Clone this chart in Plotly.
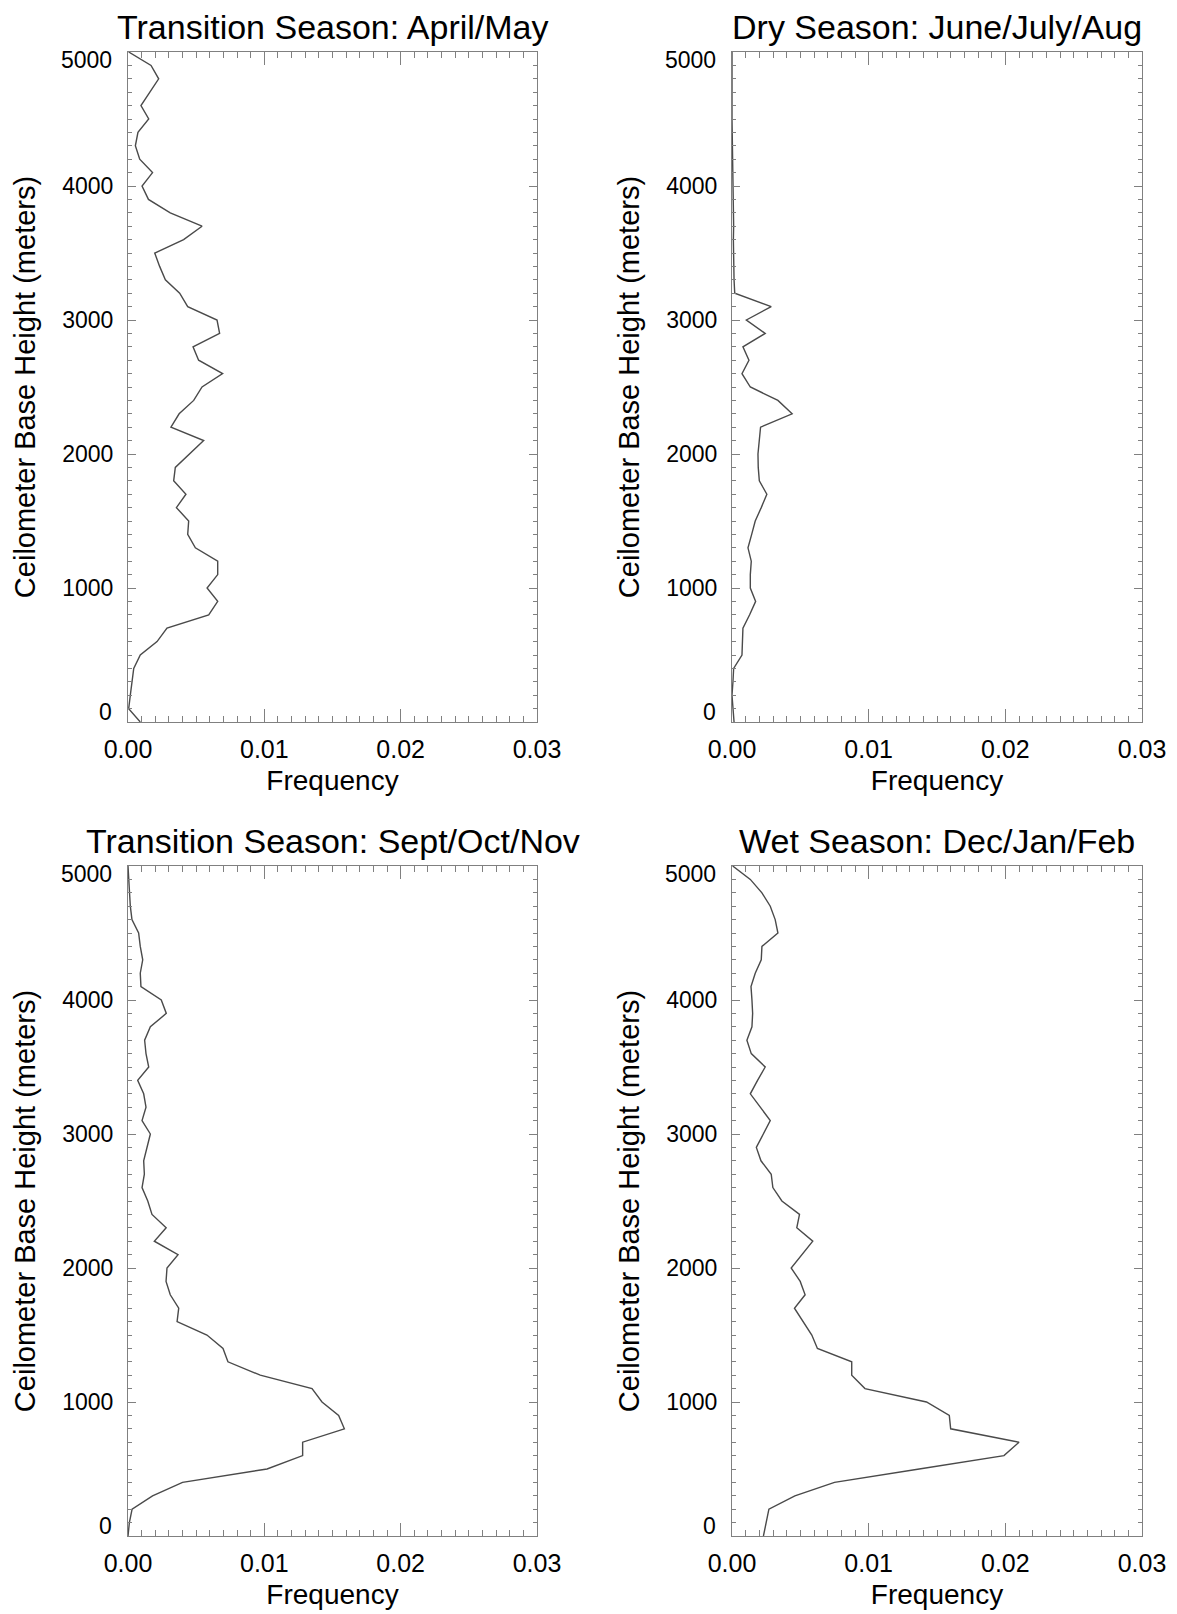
import plotly.graph_objects as go

# ---------------- data ----------------
heights = [0, 100, 200, 300, 400, 500, 600, 700, 800, 900,
           1000, 1100, 1200, 1300, 1400, 1500, 1600, 1700, 1800, 1900,
           2000, 2100, 2200, 2300, 2400, 2500, 2600, 2700, 2800, 2900,
           3000, 3100, 3200, 3300, 3400, 3500, 3600, 3700, 3800, 3900,
           4000, 4100, 4200, 4300, 4400, 4500, 4600, 4700, 4800, 4900, 5000]

freq_apr_may = [0.0009, 0.00005, 0.00017, 0.00029, 0.00042, 0.0009, 0.00213, 0.00286, 0.00592, 0.00658,
                0.0058, 0.00658, 0.00658, 0.00494, 0.00438, 0.00445, 0.00355, 0.00425, 0.00335, 0.00347,
                0.0045, 0.00555, 0.00315, 0.00375, 0.00482, 0.00543, 0.00694, 0.00518, 0.00477, 0.00672,
                0.00653, 0.00438, 0.00379, 0.00274, 0.00232, 0.00196, 0.00408, 0.00543, 0.0031, 0.0015,
                0.00103, 0.0018, 0.00086, 0.00054, 0.00073, 0.00152, 0.00095, 0.0016, 0.00225, 0.00169, 0.00005]

freq_jun_aug = [0.00015, 0.00007, 0.0, 0.00007, 0.00012, 0.00073, 0.00075, 0.0008, 0.00129, 0.00173,
                0.00134, 0.00134, 0.00141, 0.00117, 0.00144, 0.0017, 0.00214, 0.00255, 0.002, 0.00192,
                0.0019, 0.00197, 0.00209, 0.0044, 0.00336, 0.00134, 0.00073, 0.00124, 0.0008, 0.00243,
                0.00105, 0.00287, 0.0002, 0.00015, 0.00012, 0.0001, 0.0001, 0.00012, 0.0001, 0.0001,
                0.00008, 0.00005, 0.00005, 0.00002, 0.0, 0.0, 0.0, 0.0, 0.0, 0.0, 0.0]

freq_sep_nov = [0.0, 0.0001, 0.0003, 0.0018, 0.0040, 0.0102, 0.01281, 0.01281, 0.01587, 0.01545,
                0.01423, 0.0135, 0.0097, 0.00733, 0.00697, 0.00579, 0.0036, 0.00372, 0.0031, 0.00279,
                0.00286, 0.00367, 0.00193, 0.0028, 0.00176, 0.00145, 0.00103, 0.0012, 0.00115, 0.00139,
                0.00164, 0.00103, 0.00132, 0.00115, 0.00071, 0.00152, 0.00132, 0.00122, 0.00164, 0.00281,
                0.00244, 0.00095, 0.0009, 0.00108, 0.0009, 0.00078, 0.00029, 0.00017, 0.0001, 0.00002, 0.0]

freq_dec_feb = [0.0023, 0.0025, 0.0027, 0.0046, 0.0075, 0.0137, 0.0199, 0.0210, 0.0160, 0.0159,
                0.01423, 0.00973, 0.00876, 0.00876, 0.00625, 0.00584, 0.0052, 0.00457, 0.00535, 0.00499,
                0.00433, 0.0051, 0.00591, 0.00474, 0.00494, 0.00365, 0.00299, 0.00287, 0.00212, 0.00178,
                0.00231, 0.0028, 0.00207, 0.00134, 0.00187, 0.00243, 0.00141, 0.00109, 0.00146, 0.00151,
                0.00146, 0.00139, 0.0017, 0.00214, 0.00219, 0.00336, 0.00316, 0.0028, 0.00219, 0.00134, 0.00005]

titles = ["Transition Season: April/May", "Dry Season: June/July/Aug",
          "Transition Season: Sept/Oct/Nov", "Wet Season: Dec/Jan/Feb"]
series = [freq_apr_may, freq_jun_aug, freq_sep_nov, freq_dec_feb]

x_tickvals = [0.0, 0.01, 0.02, 0.03]
x_ticktext = ["0.00", "0.01", "0.02", "0.03"]
y_tickvals = [0, 1000, 2000, 3000, 4000, 5000]
y_ticktext = ["0", "1000", "2000", "3000", "4000", "5000"]
x_title = "Frequency"
y_title = "Ceilometer Base Height (meters)"

# ---------------- layout geometry ----------------
OFF = 8                      # default page (body) margin of the HTML page
W, H = 1177 - OFF, 1614 - OFF
FONT = "Liberation Sans, Arial, Helvetica, sans-serif"
AXC = "#808080"
LINEC = "#4a4a4a"


def px_x(p):
    return (p - OFF) / W


def px_y(p):
    return 1 - (p - OFF) / H


x_domains = [(px_x(128), px_x(537)), (px_x(732), px_x(1142))]
y_domains = [(px_y(722), px_y(52)), (px_y(1536), px_y(866))]
title_px = [27.0, 841.0]

fig = go.Figure()
layout = dict(
    width=W, height=H, autosize=False,
    margin=dict(l=0, r=0, t=0, b=0, pad=0, autoexpand=False),
    paper_bgcolor="white", plot_bgcolor="white",
    showlegend=False,
    font=dict(family=FONT, color="black"),
    annotations=[],
)

# y tick labels shown on the axis (the end labels are drawn nudged inward, as in the original)
y_axis_text = ["" if v in (y_tickvals[0], y_tickvals[-1]) else t for v, t in zip(y_tickvals, y_ticktext)]

for i in range(4):
    row, col = divmod(i, 2)
    n = "" if i == 0 else str(i + 1)
    xa, ya = "x" + n, "y" + n
    fig.add_trace(go.Scatter(
        x=series[i], y=heights, mode="lines",
        line=dict(color=LINEC, width=1.4),
        xaxis=xa, yaxis=ya, name=titles[i],
    ))
    layout["xaxis" + n] = dict(
        domain=list(x_domains[col]), anchor=ya, range=[0, 0.03],
        automargin=False,
        tickmode="array", tickvals=x_tickvals, ticktext=x_ticktext,
        ticks="inside", ticklen=13, tickwidth=1, tickcolor=AXC,
        showline=True, linecolor=AXC, linewidth=1, mirror="ticks",
        minor=dict(ticks="inside", ticklen=6, tickwidth=1, tickcolor=AXC, dtick=0.001, tick0=0),
        showgrid=False, zeroline=False,
        tickfont=dict(size=25, family=FONT, color="black"),
        ticklabelstandoff=5,
        title=dict(text=x_title, font=dict(size=28, family=FONT, color="black"), standoff=8),
        fixedrange=True,
    )
    layout["yaxis" + n] = dict(
        domain=list(y_domains[row]), anchor=xa, range=[0, 5000],
        automargin=False,
        tickmode="array", tickvals=y_tickvals, ticktext=y_axis_text,
        ticks="inside", ticklen=8, tickwidth=1, tickcolor=AXC,
        showline=True, linecolor=AXC, linewidth=1, mirror="ticks",
        minor=dict(ticks="inside", ticklen=4, tickwidth=1, tickcolor=AXC, dtick=100, tick0=0),
        showgrid=False, zeroline=False,
        tickfont=dict(size=23, family=FONT, color="black"),
        ticklabelstandoff=9,
        title=dict(text=y_title, font=dict(size=29, family=FONT, color="black"), standoff=18),
        fixedrange=True,
    )
    # end labels of the y axis, nudged inward
    for v, t, dy in ((y_tickvals[-1], y_ticktext[-1], -8), (y_tickvals[0], y_ticktext[0], 10)):
        layout["annotations"].append(dict(
            text=t, xref="paper", yref=ya, x=x_domains[col][0], y=v,
            xanchor="right", yanchor="middle", xshift=-14, yshift=dy,
            showarrow=False, font=dict(size=23, family=FONT, color="black"),
        ))
    xc = (x_domains[col][0] + x_domains[col][1]) / 2
    layout["annotations"].append(dict(
        text=titles[i], xref="paper", yref="paper",
        x=xc, y=px_y(title_px[row]), xanchor="center", yanchor="middle",
        showarrow=False, font=dict(size=34, family=FONT, color="black"),
    ))

fig.update_layout(**layout)
fig.write_html("out.html")
